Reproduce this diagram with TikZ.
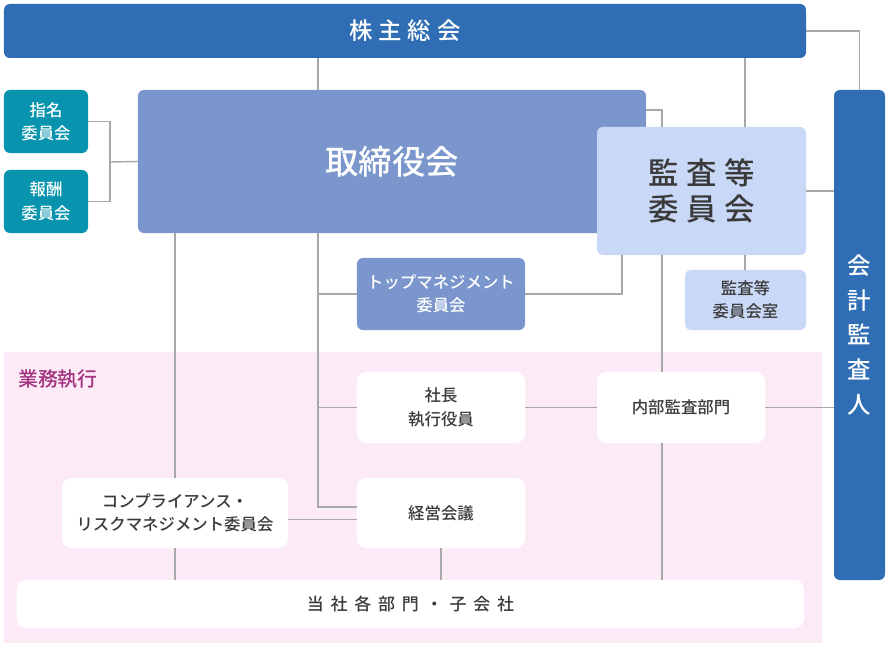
\documentclass[tikz,border=0pt]{standalone}
\usepackage{fontspec}
\setmainfont{Noto Sans CJK JP}[UprightFont=* Medium,BoldFont=* Bold]
\newfontfamily\jpwide{Noto Sans CJK JP}[UprightFont=* Medium,LetterSpace=25]
\newfontfamily\jpwider{Noto Sans CJK JP}[UprightFont=* Medium,LetterSpace=40]
\usetikzlibrary{calc}

\definecolor{kabublue}{HTML}{2F6EB5}
\definecolor{boardblue}{HTML}{7A96CC}
\definecolor{auditlight}{HTML}{CAD8F7}
\definecolor{teal}{HTML}{0894AE}
\definecolor{execpink}{HTML}{FCEBF6}
\definecolor{execpurple}{HTML}{A33381}
\definecolor{linegray}{HTML}{A8A8A8}
\definecolor{textgray}{HTML}{3A3A3A}

\tikzset{
  box/.style={rounded corners=5pt,inner sep=0pt,outer sep=0pt,align=center},
  darkbox/.style={box,fill=kabublue,text=white},
  boardbox/.style={box,fill=boardblue,text=white},
  lightbox/.style={box,fill=auditlight,text=textgray},
  tealbox/.style={box,fill=teal,text=white,font=\fontsize{14pt}{20pt}\selectfont},
  whitebox/.style={box,rounded corners=8pt,fill=white,text=textgray,font=\fontsize{14pt}{20pt}\selectfont},
  conn/.style={draw=linegray,line width=1.2pt}
}

\begin{document}
\begin{tikzpicture}[x=0.03cm,y=-0.03cm]
\useasboundingbox (0,0) rectangle (888,648);

% execution area
\fill[execpink] (4,352) rectangle (822,643);
\node[anchor=west,text=execpurple,font=\fontsize{17pt}{20pt}\selectfont] (gyomu) at (14,379) {業務執行};

% top level
\node[darkbox,minimum width=24.06cm,minimum height=1.62cm,font=\jpwide\fontsize{20pt}{24pt}\selectfont] (kabu) at (405,31) {株主総会};
\node[darkbox,minimum width=1.53cm,minimum height=14.7cm,font=\fontsize{20pt}{29.5pt}\selectfont] (kaikei) at (859.5,335) {会\\計\\監\\査\\人};

% board and committees
\node[tealbox,minimum width=2.52cm,minimum height=1.89cm] (shimei) at (46,121.5) {指名\\委員会};
\node[tealbox,minimum width=2.52cm,minimum height=1.89cm] (hoshu) at (46,201.5) {報酬\\委員会};
\node[boardbox,minimum width=15.24cm,minimum height=4.29cm,font=\fontsize{28.5pt}{32pt}\selectfont] (torishimari) at (392,161.5) {取締役会};
\node[lightbox,minimum width=6.27cm,minimum height=3.84cm,font=\jpwide\fontsize{26pt}{31pt}\selectfont] (kansa) at (701.5,191) {監査等\\委員会};
\node[lightbox,minimum width=3.63cm,minimum height=1.8cm,font=\fontsize{14pt}{20pt}\selectfont] (kansashitsu) at (745.5,300) {監査等\\委員会室};
\node[boardbox,minimum width=5.04cm,minimum height=2.16cm,font=\fontsize{14pt}{20pt}\selectfont] (top) at (441,294) {トップマネジメント\\委員会};

% execution
\node[whitebox,minimum width=5.04cm,minimum height=2.13cm] (shacho) at (441,407.5) {社長\\執行役員};
\node[whitebox,minimum width=5.04cm,minimum height=2.13cm] (naibu) at (681,407.5) {内部監査部門};
\node[whitebox,minimum width=6.78cm,minimum height=2.1cm] (comp) at (175,513) {コンプライアンス・\\リスクマネジメント委員会};
\node[whitebox,minimum width=5.04cm,minimum height=2.1cm] (keiei) at (441,513) {経営会議};
\node[whitebox,minimum width=23.61cm,minimum height=1.44cm,font=\jpwider\fontsize{14.5pt}{20pt}\selectfont] (tosha) at (410.5,604) {当社各部門・子会社};

% helper points for the vertical runs
\coordinate (xs) at (318,0);
\coordinate (xc) at (175,0);
\coordinate (xa) at (745,0);
\coordinate (xi) at (662,0);
\coordinate (xt) at (622,0);
\coordinate (yk) at (0,110);
\coordinate (jn) at (110,162);

% connectors
\draw[conn] (kabu.east) -| (kaikei.north);
\draw[conn] (shimei.east) -| (jn) |- (hoshu.east);
\draw[conn] (jn) -- (torishimari.west);
\draw[conn] (kabu.south -| xs) -- (torishimari.north -| xs);
\draw[conn] (kabu.south -| xa) -- (kansa.north -| xa);
\draw[conn] (kansa.south -| xa) -- (kansashitsu.north -| xa);
\draw[conn] (torishimari.east |- yk) -| (kansa.north -| xi);
\draw[conn] (kansa.east) -- (kaikei.west |- kansa.east);
\draw[conn] (top.east) -| (kansa.south -| xt);
\draw[conn] (torishimari.south -| xs) |- ([yshift=0.18cm]keiei.west);
\draw[conn] (top.west -| xs) -- (top.west);
\draw[conn] (shacho.west -| xs) -- (shacho.west);
\draw[conn] (torishimari.south -| xc) -- (comp.north -| xc);
\draw[conn] (comp.south -| xc) -- (tosha.north -| xc);
\draw[conn] ([yshift=-0.2cm]comp.east) -- ([yshift=-0.2cm]keiei.west);
\draw[conn] (kansa.south -| xi) -- (naibu.north -| xi);
\draw[conn] (naibu.south -| xi) -- (tosha.north -| xi);
\draw[conn] (shacho.east) -- (naibu.west);
\draw[conn] (naibu.east) -- (kaikei.west |- naibu.east);
\draw[conn] (keiei.south) -- (tosha.north -| keiei.south);
\end{tikzpicture}
\end{document}
